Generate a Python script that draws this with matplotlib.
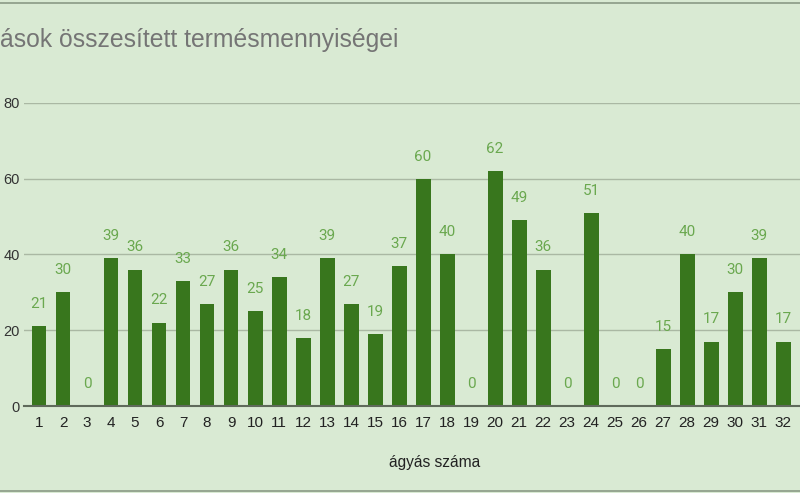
import numpy as np
import matplotlib.pyplot as plt
from matplotlib.lines import Line2D

# data
beds = list(range(1, 33))
harvest = [21, 30, 0, 39, 36, 22, 33, 27, 36, 25, 34, 18, 39, 27, 19, 37,
           60, 40, 0, 62, 49, 36, 0, 51, 0, 0, 15, 40, 17, 30, 39, 17]
title = "ások összesített termésmennyiségei"
xlabel = "ágyás száma"
yticks = [0, 20, 40, 60, 80]

bg = "#d9ead3"
bar_color = "#38761d"
label_color = "#6aa84f"

plt.rcParams["font.family"] = ["Liberation Sans", "DejaVu Sans"]

fig = plt.figure(figsize=(8, 4.93), dpi=100, facecolor=bg)
ax = fig.add_axes([24 / 800, 87 / 493, 776 / 800, 303 / 493])
ax.set_facecolor(bg)

x = np.array(beds)
ax.bar(x, harvest, width=0.62, color=bar_color, zorder=3)
for xi, v in zip(x, harvest):
    ax.annotate(str(v), (xi, v), xytext=(0, 16), textcoords="offset points",
                ha="center", va="center", color=label_color, fontsize=11,
                family=["Roboto", "DejaVu Sans"])

ax.set_xlim(0.375, 32.7)
ax.set_ylim(0, 80)
ax.set_xticks(x)
ax.set_xticklabels([str(b) for b in beds], fontsize=11, color="#222222")
ax.set_yticks(yticks)
ax.set_yticklabels([str(t) for t in yticks], fontsize=10.5, color="#333333")
ax.tick_params(length=0, axis="x", pad=7)
ax.tick_params(length=0, axis="y", pad=3)
ax.grid(axis="y", color="#aab8a3", linewidth=1, zorder=0)
for s in ["top", "right", "left"]:
    ax.spines[s].set_visible(False)
ax.spines["bottom"].set_color("#5f6a5b")
ax.spines["bottom"].set_linewidth(1.5)
ax.spines["bottom"].set_zorder(4)

fig.text(0.0, 1 - 40 / 493, title, fontsize=17.8, color="#757575",
         ha="left", va="center")
fig.text(435 / 800, 1 - 462 / 493, xlabel, fontsize=11.2, color="#222222",
         ha="center", va="center")

fig.add_artist(Line2D([0, 1], [1 - 2.5 / 493] * 2, color="#8a9a85", lw=1.2))
fig.add_artist(Line2D([0, 1], [1 - 491 / 493] * 2, color="#8a9a85", lw=1.2))

fig.savefig("out.png", dpi=100, facecolor=bg)
